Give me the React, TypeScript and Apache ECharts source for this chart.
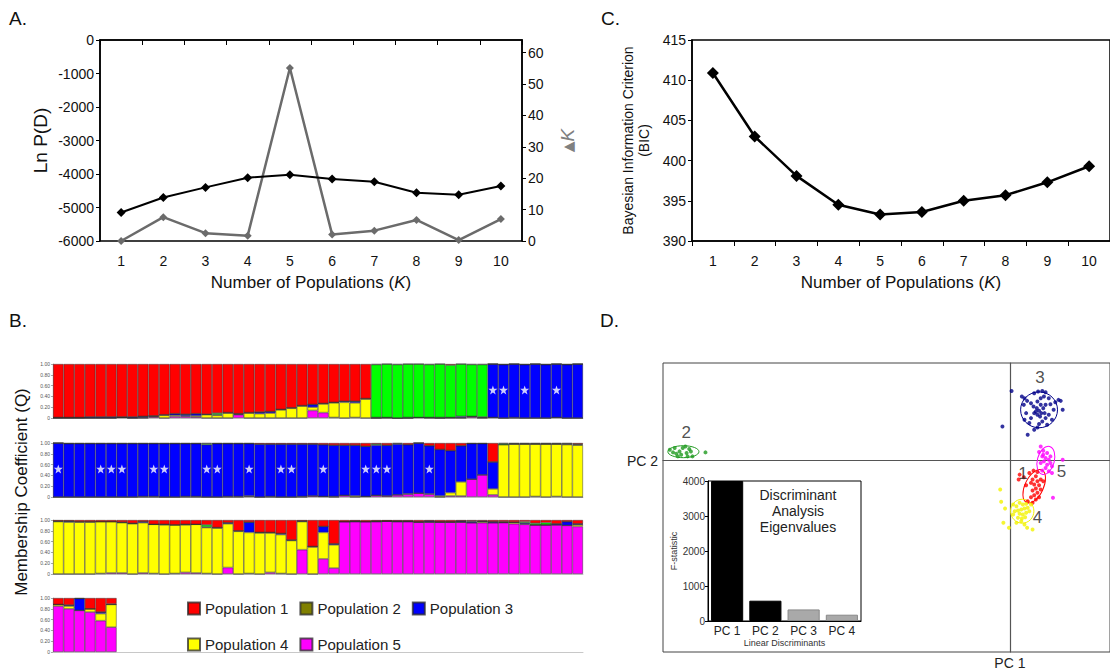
import React, { useEffect, useRef } from 'react';
import * as echarts from 'echarts';

const FONT = '"Liberation Sans", Arial, Helvetica, sans-serif';

// Panel A / C
const K_LABELS = ['1', '2', '3', '4', '5', '6', '7', '8', '9', '10'];
const LN_PD = [-5150, -4700, -4400, -4110, -4020, -4150, -4230, -4560, -4620, -4360];
const DELTA_K = [0, 7.6, 2.5, 1.7, 55.1, 2.1, 3.3, 6.7, 0.3, 7.0];
const BIC = [410.9, 403.0, 398.1, 394.5, 393.3, 393.6, 395.0, 395.7, 397.3, 399.3];

// Panel B: membership coefficients [P1, P2, P3, P4, P5]
const POP_NAMES = ['Population 1', 'Population 2', 'Population 3', 'Population 4', 'Population 5'];
const POP_COLORS = ['#ff0000', '#00ff00', '#0000ff', '#ffff00', '#ff00ff'];
const LEGEND_COLORS = ['#ff0000', '#808000', '#0000ff', '#ffff00', '#ff00ff'];
const Q_TICKS = [0, 0.2, 0.4, 0.6, 0.8, 1.0];

const Q_ROW1 = [
  [0.99, 0, 0.01, 0, 0], [0.99, 0, 0.01, 0, 0], [0.99, 0, 0.01, 0, 0], [0.98, 0, 0.02, 0, 0],
  [0.98, 0, 0.02, 0, 0], [0.98, 0, 0.02, 0, 0], [0.98, 0, 0.01, 0, 0.01], [0.98, 0, 0.02, 0, 0],
  [0.97, 0, 0.02, 0.01, 0], [0.96, 0, 0.01, 0.01, 0.02], [0.94, 0, 0.01, 0.05, 0], [0.92, 0, 0.03, 0.02, 0.03],
  [0.93, 0, 0.03, 0.01, 0.03], [0.92, 0, 0.04, 0.02, 0.02], [0.93, 0, 0.01, 0.06, 0], [0.91, 0.03, 0.01, 0.05, 0],
  [0.90, 0, 0.01, 0.09, 0], [0.92, 0, 0.01, 0.01, 0.06], [0.90, 0, 0.01, 0.09, 0], [0.89, 0, 0.03, 0.08, 0],
  [0.88, 0, 0.03, 0.09, 0], [0.84, 0, 0.01, 0.15, 0], [0.81, 0, 0.01, 0.18, 0], [0.77, 0, 0.01, 0.22, 0],
  [0.75, 0, 0.05, 0.06, 0.14], [0.73, 0, 0.01, 0.16, 0.10], [0.71, 0, 0.01, 0.27, 0.01], [0.69, 0, 0.02, 0.29, 0],
  [0.69, 0, 0.03, 0.27, 0.01], [0.64, 0, 0.01, 0.35, 0],
  [0.01, 0.98, 0.01, 0, 0], [0, 0.99, 0, 0.01, 0], [0.01, 0.99, 0, 0, 0], [0, 0.99, 0.01, 0, 0],
  [0, 0.99, 0, 0, 0.01], [0.01, 0.98, 0, 0.01, 0], [0, 0.99, 0.01, 0, 0], [0.02, 0.97, 0, 0.01, 0],
  [0, 0.97, 0.02, 0.01, 0], [0.01, 0.96, 0, 0.01, 0.02], [0.01, 0.97, 0.01, 0.01, 0],
  [0, 0, 0.99, 0, 0.01], [0.01, 0, 0.99, 0, 0], [0, 0, 0.99, 0.01, 0], [0.01, 0, 0.99, 0, 0],
  [0, 0, 1.0, 0, 0], [0.01, 0, 0.99, 0, 0], [0, 0, 0.99, 0, 0.01], [0.01, 0, 0.99, 0, 0], [0, 0, 1.0, 0, 0],
];

const Q_ROW2 = [
  [0, 0, 1.0, 0, 0], [0.01, 0, 0.99, 0, 0], [0.01, 0, 0.99, 0, 0], [0.01, 0, 0.99, 0, 0],
  [0.01, 0, 0.99, 0, 0], [0.01, 0, 0.99, 0, 0], [0.01, 0, 0.99, 0, 0], [0.01, 0, 0.99, 0, 0],
  [0.01, 0, 0.98, 0.01, 0], [0.01, 0, 0.98, 0.01, 0], [0.01, 0, 0.99, 0, 0], [0.01, 0, 0.99, 0, 0],
  [0.01, 0, 0.98, 0.01, 0], [0.01, 0, 0.98, 0.01, 0], [0.01, 0.02, 0.97, 0, 0], [0.01, 0, 0.99, 0, 0],
  [0.01, 0, 0.98, 0.01, 0], [0.01, 0, 0.98, 0.01, 0], [0.01, 0, 0.97, 0.01, 0.01], [0.02, 0, 0.98, 0, 0],
  [0.02, 0, 0.97, 0.01, 0], [0.02, 0, 0.98, 0, 0], [0.02, 0, 0.98, 0, 0], [0.02, 0, 0.97, 0.01, 0],
  [0.02, 0, 0.96, 0, 0.02], [0.03, 0, 0.96, 0, 0.01], [0.04, 0, 0.95, 0.01, 0], [0.04, 0, 0.93, 0, 0.03],
  [0.04, 0, 0.94, 0.02, 0], [0.06, 0, 0.93, 0, 0.01], [0.02, 0.02, 0.93, 0, 0.03], [0.04, 0, 0.94, 0, 0.02],
  [0.01, 0.01, 0.94, 0, 0.04], [0.03, 0, 0.91, 0.01, 0.05], [0, 0, 0.93, 0, 0.07], [0.05, 0, 0.89, 0.01, 0.05],
  [0.12, 0, 0.86, 0.02, 0], [0.14, 0, 0.78, 0.06, 0.02], [0.05, 0, 0.67, 0.26, 0.02], [0.01, 0, 0.66, 0, 0.33],
  [0.01, 0, 0.58, 0, 0.41], [0.35, 0, 0.50, 0.11, 0.04],
  [0.01, 0.02, 0, 0.97, 0], [0.01, 0.01, 0, 0.98, 0], [0.01, 0.01, 0, 0.98, 0], [0.01, 0.01, 0, 0.97, 0.01],
  [0.01, 0.01, 0, 0.98, 0], [0.01, 0.01, 0, 0.97, 0.01], [0.01, 0.01, 0.01, 0.97, 0], [0.02, 0.01, 0.01, 0.96, 0],
];

const Q_ROW3 = [
  [0.02, 0, 0.01, 0.97, 0], [0.02, 0, 0.02, 0.96, 0], [0.03, 0, 0.01, 0.96, 0], [0.03, 0, 0.01, 0.96, 0],
  [0.03, 0, 0, 0.96, 0.01], [0.03, 0, 0, 0.95, 0.02], [0.04, 0, 0.01, 0.93, 0.02], [0.06, 0, 0.01, 0.93, 0],
  [0.03, 0, 0.02, 0.93, 0.02], [0.08, 0, 0, 0.91, 0.01], [0.08, 0, 0.01, 0.91, 0], [0.09, 0, 0, 0.90, 0.01],
  [0.08, 0, 0.01, 0.88, 0.03], [0.08, 0, 0, 0.90, 0.02], [0.09, 0.04, 0.01, 0.85, 0.01], [0.14, 0, 0.01, 0.85, 0],
  [0.05, 0, 0.02, 0.81, 0.12], [0.20, 0, 0.01, 0.79, 0], [0.04, 0, 0.19, 0.76, 0.01], [0.23, 0, 0.01, 0.76, 0],
  [0.23, 0, 0.01, 0.73, 0.03], [0.25, 0, 0.02, 0.72, 0.01], [0.37, 0, 0.01, 0.62, 0], [0.02, 0, 0.01, 0.52, 0.45],
  [0.49, 0, 0.01, 0.50, 0], [0.12, 0, 0.11, 0.49, 0.28], [0.44, 0, 0.02, 0.43, 0.11],
  [0.03, 0, 0, 0, 0.97], [0.02, 0, 0.01, 0, 0.97], [0.03, 0, 0, 0, 0.97], [0.02, 0, 0.01, 0, 0.97],
  [0.02, 0, 0, 0, 0.98], [0.02, 0, 0.01, 0, 0.97], [0.02, 0, 0.01, 0, 0.97], [0.03, 0, 0.01, 0, 0.96],
  [0.02, 0, 0.02, 0, 0.96], [0.03, 0, 0.01, 0, 0.96], [0.03, 0, 0.01, 0, 0.96], [0.02, 0, 0.02, 0, 0.96],
  [0.02, 0.01, 0.02, 0, 0.95], [0.02, 0.01, 0, 0.02, 0.95], [0.03, 0, 0.02, 0, 0.95], [0.03, 0.01, 0, 0.01, 0.95],
  [0.04, 0, 0, 0.03, 0.93], [0.03, 0.02, 0.02, 0.01, 0.92], [0.06, 0.03, 0, 0, 0.91], [0.05, 0.04, 0, 0, 0.91],
  [0.07, 0, 0.02, 0, 0.91], [0.03, 0, 0.07, 0, 0.90], [0.07, 0, 0.02, 0.03, 0.88],
];

const Q_ROW4 = [
  [0.12, 0, 0, 0.03, 0.85], [0.13, 0, 0.02, 0.05, 0.80], [0.01, 0, 0.22, 0, 0.77],
  [0.20, 0, 0, 0.06, 0.74], [0.26, 0, 0.03, 0.13, 0.58], [0.11, 0.01, 0, 0.42, 0.46],
];

const Q_ROWS = [Q_ROW1, Q_ROW2, Q_ROW3, Q_ROW4];
const SAMPLE_LABELS = Array.from({ length: 50 }, (_, i) => String(i + 1));
const STARS_ROW1 = [41, 42, 44, 47];
const STARS_ROW2 = [0, 4, 5, 6, 9, 10, 14, 15, 18, 21, 22, 25, 29, 30, 31, 35];
const STAR_Q = 0.52;

// Panel D: DAPC scatter (LD scores)
const CLUSTER_COLORS = ['#ff0000', '#1f9a1f', '#000088', '#f2f200', '#ff00ff'];
const CLUSTER1 = [
  [1.0, -1.4], [0.9, -1.9], [1.43, -1.67], [2.0, -1.23], [2.43, -1.0], [2.83, -1.13], [2.67, -1.57],
  [2.33, -1.9], [2.83, -2.07], [3.17, -1.9], [2.17, -2.23], [2.5, -2.4], [3.0, -2.47], [2.67, -2.8],
  [2.33, -3.0], [3.17, -2.9], [2.83, -3.23], [2.5, -3.47], [2.17, -3.67], [3.0, -3.67], [2.67, -3.9],
  [1.83, -4.07], [2.33, -4.23], [3.43, -2.07], [1.67, -2.47],
];
const CLUSTER2 = [
  [-35.0, 1.1], [-34.67, 0.83], [-34.33, 0.7], [-34.0, 0.93], [-33.67, 1.27], [-33.4, 1.43], [-33.27, 0.77],
  [-33.0, 1.17], [-32.83, 0.93], [-32.67, 0.43], [-34.17, 0.43], [-33.83, 0.6], [-33.17, 0.43], [-31.33, 0.83],
  [-34.5, 1.27],
];
const CLUSTER3 = [
  [0.17, 7.0], [-0.77, 3.43], [1.23, 6.43], [1.5, 6.27], [1.77, 6.0], [1.43, 5.6], [2.17, 5.77], [2.5, 6.77],
  [2.9, 6.93], [3.33, 7.0], [3.67, 6.87], [3.5, 6.43], [4.0, 6.27], [3.17, 6.27], [2.83, 5.93], [2.43, 5.43],
  [2.77, 5.27], [3.0, 5.0], [3.23, 4.77], [2.83, 4.6], [2.5, 4.77], [3.43, 5.27], [3.67, 5.6], [4.17, 5.67],
  [4.67, 5.87], [5.0, 6.1], [5.23, 6.0], [5.43, 5.1], [4.5, 5.1], [4.0, 4.6], [3.67, 4.27], [3.33, 3.93],
  [3.0, 3.67], [2.5, 3.1], [1.83, 2.6], [2.83, 3.33], [3.83, 3.6], [4.33, 4.1], [2.17, 4.27], [1.67, 4.77],
  [1.5, 4.1], [2.0, 3.77], [3.17, 5.6], [2.67, 4.93], [3.1, 4.43], [3.57, 4.77],
];
const CLUSTER4 = [
  [-1.0, -2.9], [-0.9, -4.13], [-0.5, -4.8], [-0.67, -6.23], [-0.1, -6.73], [0.33, -4.4], [0.67, -4.57],
  [1.0, -4.23], [1.33, -4.4], [1.67, -4.33], [0.5, -5.07], [0.83, -5.0], [1.17, -4.9], [1.5, -4.8],
  [1.83, -4.73], [1.0, -5.33], [1.33, -5.4], [1.67, -5.23], [0.83, -5.73], [1.23, -5.8], [1.57, -5.67],
  [2.0, -5.07], [2.17, -4.4], [0.67, -6.23], [1.5, -6.4], [1.77, -6.73], [2.33, -6.9], [0.33, -5.4],
  [1.17, -6.07],
];
const CLUSTER5 = [
  [3.17, 1.43], [3.0, 0.87], [3.43, 1.0], [3.83, 0.77], [3.33, 0.43], [3.67, 0.27], [4.0, 0.1], [3.5, -0.07],
  [3.17, -0.23], [3.83, -0.4], [4.17, -0.23], [4.33, -0.57], [3.67, -0.73], [4.0, -1.07], [3.33, -1.0],
  [4.33, -1.23], [5.43, 0.1], [4.43, -3.73], [3.43, 0.6], [4.17, 0.43],
];
const CLUSTERS = [CLUSTER1, CLUSTER2, CLUSTER3, CLUSTER4, CLUSTER5];
// [centre x, centre y, radius x, radius y, rotation in degrees]
const ELLIPSES = [
  [2.5, -2.57, 0.95, 1.8, -25],
  [-33.6, 0.9, 1.6, 0.6, 0],
  [3.0, 5.1, 1.9, 1.8, 0],
  [1.27, -5.07, 1.2, 1.2, 0],
  [3.7, 0.03, 0.87, 1.45, -15],
];
const CLUSTER_TAGS = [
  { name: '1', value: [1.35, -1.3] },
  { name: '2', value: [-33.3, 2.8] },
  { name: '3', value: [3.1, 8.3] },
  { name: '4', value: [2.85, -5.75] },
  { name: '5', value: [5.3, -1.1] },
];

// Inset bar chart
const EIGEN_LABELS = ['PC 1', 'PC 2', 'PC 3', 'PC 4'];
const EIGEN_VALUES = [4000, 580, 330, 180];
const EIGEN_COLORS = ['#000000', '#000000', '#a9a9a9', '#a9a9a9'];

const STAR_PATH =
  'path://M0,-10L2.35,-3.24L9.51,-3.09L3.8,1.24L5.88,8.09L0,4L-5.88,8.09L-3.8,1.24L-9.51,-3.09L-2.35,-3.24Z';

const plain = (v: number) => String(v);

function buildOption() {
  const lineAxisLabel = { fontSize: 14, color: '#111', fontFamily: FONT, formatter: plain };
  const nameK = {
    name: 'Number of Populations ({i|K})',
    nameLocation: 'middle',
    nameGap: 33,
    nameTextStyle: {
      fontSize: 17,
      color: '#111',
      fontFamily: FONT,
      rich: { i: { fontSize: 17, fontStyle: 'italic', color: '#111', fontFamily: FONT } },
    },
  };
  const blackLine = { show: true, lineStyle: { color: '#000', width: 1.5 } };

  const xAxis: any[] = [
    {
      type: 'category', gridIndex: 0, data: K_LABELS, ...nameK,
      axisLine: blackLine, axisTick: { show: true, length: 5, lineStyle: { color: '#000' } },
      axisLabel: { fontSize: 14, color: '#111', fontFamily: FONT, margin: 13 },
    },
    {
      type: 'category', gridIndex: 1, data: K_LABELS, ...nameK,
      axisLine: blackLine, axisTick: { show: true, length: 5, lineStyle: { color: '#000' } },
      axisLabel: { fontSize: 14, color: '#111', fontFamily: FONT, margin: 13 },
    },
  ];
  const yAxis: any[] = [
    {
      type: 'value', gridIndex: 0, min: -6000, max: 0, interval: 1000,
      name: 'Ln P(D)', nameLocation: 'middle', nameGap: 50,
      nameTextStyle: { fontSize: 19, color: '#111', fontFamily: FONT },
      axisLine: blackLine, axisTick: { show: true, length: 4, lineStyle: { color: '#000' } },
      axisLabel: { ...lineAxisLabel, margin: 6 }, splitLine: { show: false },
    },
    {
      type: 'value', gridIndex: 0, position: 'right', min: 0, max: 64, interval: 10,
      name: '{t|▲}{k|K}', nameLocation: 'middle', nameGap: 36, nameRotate: 90,
      nameTextStyle: {
        fontSize: 18, color: '#808080', fontFamily: FONT,
        rich: {
          t: { fontSize: 14, color: '#808080', fontFamily: 'DejaVu Sans' },
          k: { fontSize: 19, fontStyle: 'italic', color: '#808080', fontFamily: FONT },
        },
      },
      axisLine: blackLine, axisTick: { show: true, length: 4, lineStyle: { color: '#000' } },
      axisLabel: { ...lineAxisLabel, margin: 6, showMaxLabel: false }, splitLine: { show: false },
    },
    {
      type: 'value', gridIndex: 1, min: 390, max: 415, interval: 5,
      name: 'Bayesian Information Criterion\n(BIC)', nameLocation: 'middle', nameGap: 40,
      nameTextStyle: { fontSize: 14, lineHeight: 16, color: '#111', fontFamily: FONT, align: 'center' },
      axisLine: blackLine, axisTick: { show: true, length: 4, lineStyle: { color: '#000' } },
      axisLabel: { ...lineAxisLabel, margin: 6 }, splitLine: { show: false },
    },
  ];

  const grid: any[] = [
    { left: 100, top: 40, width: 422, height: 201, show: true, borderColor: '#000', borderWidth: 1.5 },
    { left: 692, top: 40, width: 426, height: 201, show: true, borderColor: '#000', borderWidth: 1.5 },
  ];

  const rowTops = [364, 443, 520, 598];
  rowTops.forEach((top, r) => {
    grid.push({ left: 53, top, width: 530, height: 54 });
    xAxis.push({
      type: 'category', gridIndex: 2 + r, data: SAMPLE_LABELS,
      axisLine: { show: true, lineStyle: { color: '#c8c8c8', width: 1 } },
      axisTick: { show: false }, axisLabel: { show: false },
    });
    yAxis.push({
      type: 'value', gridIndex: 2 + r, min: Q_TICKS[0], max: Q_TICKS[Q_TICKS.length - 1], interval: 0.2,
      axisLine: { show: true, lineStyle: { color: '#aaa', width: 0.8 } },
      axisTick: { show: true, length: 2, lineStyle: { color: '#aaa' } },
      axisLabel: {
        fontSize: 5, color: '#555', margin: 3, fontFamily: FONT,
        formatter: (v: number) => (v === 0 ? '0' : v.toFixed(2)),
      },
      splitLine: { show: false },
    });
  });

  // D scatter grid
  grid.push({ left: 663, top: 363, width: 460, height: 290, show: true, borderColor: '#444', borderWidth: 1 });
  xAxis.push({
    type: 'value', gridIndex: 6, min: -35.7, max: 10.3,
    name: 'PC 2', nameLocation: 'start', nameGap: 5,
    nameTextStyle: { fontSize: 14, color: '#222', fontFamily: FONT },
    axisLine: { show: true, onZero: true, lineStyle: { color: '#555', width: 1.2 } },
    axisTick: { show: false }, axisLabel: { show: false }, splitLine: { show: false },
  });
  yAxis.push({
    type: 'value', gridIndex: 6, min: -19.2, max: 9.8,
    name: 'PC 1', nameLocation: 'start', nameGap: 4,
    nameTextStyle: { fontSize: 14, color: '#222', fontFamily: FONT },
    axisLine: { show: true, onZero: true, lineStyle: { color: '#555', width: 1.2 } },
    axisTick: { show: false }, axisLabel: { show: false }, splitLine: { show: false },
  });

  // Inset grid
  grid.push({
    left: 708, top: 481, width: 153, height: 140, show: true,
    borderColor: '#000', borderWidth: 1, backgroundColor: '#fff',
  });
  xAxis.push({
    type: 'category', gridIndex: 7, data: EIGEN_LABELS,
    name: 'Linear Discriminants', nameLocation: 'middle', nameGap: 17,
    nameTextStyle: { fontSize: 9, color: '#333', fontFamily: FONT },
    axisLine: { show: true, lineStyle: { color: '#000' } }, axisTick: { show: false },
    axisLabel: { fontSize: 12, color: '#222', margin: 4, fontFamily: FONT },
  });
  yAxis.push({
    type: 'value', gridIndex: 7, min: 0, max: 4000, interval: 1000,
    name: 'F-statistic', nameLocation: 'middle', nameGap: 29,
    nameTextStyle: { fontSize: 9, color: '#333', fontFamily: FONT },
    axisLine: { show: true, lineStyle: { color: '#000' } },
    axisTick: { show: true, length: 3, lineStyle: { color: '#000' } },
    axisLabel: { fontSize: 10, color: '#333', margin: 3, fontFamily: FONT, formatter: plain },
    splitLine: { show: false },
  });

  const series: any[] = [
    {
      type: 'line', xAxisIndex: 0, yAxisIndex: 0, data: LN_PD,
      symbol: 'diamond', symbolSize: 9, lineStyle: { color: '#000', width: 2 },
      itemStyle: { color: '#000' }, z: 4,
    },
    {
      type: 'line', xAxisIndex: 0, yAxisIndex: 1, data: DELTA_K,
      symbol: 'diamond', symbolSize: 8, lineStyle: { color: '#6b6b6b', width: 2.5 },
      itemStyle: { color: '#6b6b6b' }, z: 3,
    },
    {
      type: 'line', xAxisIndex: 1, yAxisIndex: 2, data: BIC,
      symbol: 'diamond', symbolSize: 12, lineStyle: { color: '#000', width: 2.5 },
      itemStyle: { color: '#000' },
    },
  ];

  Q_ROWS.forEach((rows, r) => {
    [4, 3, 2, 1, 0].forEach((p) => {
      series.push({
        type: 'bar', name: POP_NAMES[p], xAxisIndex: 2 + r, yAxisIndex: 2 + r + 1,
        stack: 'row' + r, barCategoryGap: 0, barGap: 0,
        data: rows.map((t) => t[p]),
        itemStyle: { color: POP_COLORS[p], borderColor: 'rgba(40,40,40,0.75)', borderWidth: 0.6 },
        emphasis: { disabled: true },
      });
    });
  });

  [STARS_ROW1, STARS_ROW2].forEach((stars, r) => {
    series.push({
      type: 'scatter', xAxisIndex: 2 + r, yAxisIndex: 3 + r,
      data: stars.map((i) => [i, STAR_Q]),
      symbol: STAR_PATH, symbolSize: 9, itemStyle: { color: '#fff' }, z: 10,
    });
  });

  CLUSTERS.forEach((pts, c) => {
    series.push({
      type: 'scatter', xAxisIndex: 6, yAxisIndex: 7, data: pts,
      symbol: 'circle', symbolSize: 4, itemStyle: { color: CLUSTER_COLORS[c] }, z: 3,
    });
  });

  series.push({
    type: 'custom', xAxisIndex: 6, yAxisIndex: 7, data: ELLIPSES,
    encode: { x: 0, y: 1 }, z: 2,
    renderItem: (params: any, api: any) => {
      const c = api.coord([api.value(0), api.value(1)]);
      const s = api.size([api.value(2), api.value(3)]);
      return {
        type: 'ellipse', x: c[0], y: c[1], rotation: (api.value(4) * Math.PI) / 180,
        shape: { cx: 0, cy: 0, rx: s[0], ry: s[1] },
        style: { fill: 'none', stroke: CLUSTER_COLORS[params.dataIndex], lineWidth: 1 },
      };
    },
  });

  series.push({
    type: 'scatter', xAxisIndex: 6, yAxisIndex: 7, data: CLUSTER_TAGS,
    symbolSize: 1, itemStyle: { color: 'rgba(0,0,0,0)' }, z: 5,
    label: {
      show: true, position: 'inside', formatter: '{b}', fontSize: 17, color: '#222', fontFamily: FONT,
    },
  });

  series.push({
    type: 'bar', xAxisIndex: 7, yAxisIndex: 8, barCategoryGap: '16%',
    data: EIGEN_VALUES.map((v, i) => ({
      value: v,
      itemStyle: { color: EIGEN_COLORS[i], borderColor: i > 1 ? '#888' : '#000', borderWidth: 1 },
    })),
    z: 5,
  });

  const legendBase = {
    icon: 'rect', itemWidth: 12, itemHeight: 12, itemGap: 11, left: 182,
    textStyle: { fontSize: 15, color: '#222', fontFamily: FONT },
    selectedMode: false,
  };

  return {
    animation: false,
    backgroundColor: '#ffffff',
    textStyle: { fontFamily: FONT },
    grid, xAxis, yAxis, series,
    legend: [
      {
        ...legendBase, top: 596,
        data: [0, 1, 2].map((p) => ({ name: POP_NAMES[p], itemStyle: { color: LEGEND_COLORS[p] } })),
      },
      {
        ...legendBase, top: 632,
        data: [3, 4].map((p) => ({ name: POP_NAMES[p], itemStyle: { color: LEGEND_COLORS[p] } })),
      },
    ],
    graphic: [
      { type: 'text', left: 9, top: 9, style: { text: 'A.', fontSize: 19, fill: '#111', fontFamily: FONT } },
      { type: 'text', left: 601, top: 9, style: { text: 'C.', fontSize: 19, fill: '#111', fontFamily: FONT } },
      { type: 'text', left: 9, top: 311, style: { text: 'B.', fontSize: 19, fill: '#111', fontFamily: FONT } },
      { type: 'text', left: 600, top: 311, style: { text: 'D.', fontSize: 19, fill: '#111', fontFamily: FONT } },
      {
        type: 'text', x: 21, y: 492, rotation: Math.PI / 2,
        style: {
          text: 'Membership Coefficient (Q)', fontSize: 17, fill: '#111', fontFamily: FONT,
          align: 'center', verticalAlign: 'middle',
        },
      },
      {
        type: 'text', x: 798, y: 511, z: 20,
        style: {
          text: 'Discriminant\nAnalysis\nEigenvalues', fontSize: 14, lineHeight: 16, fill: '#222',
          fontFamily: FONT, align: 'center', verticalAlign: 'middle',
        },
      },
    ],
  };
}

export default function App() {
  const ref = useRef<HTMLDivElement>(null);
  useEffect(() => {
    if (!ref.current) return;
    const chart = echarts.init(ref.current, undefined, { renderer: 'svg' });
    chart.setOption(buildOption() as any);
    return () => chart.dispose();
  }, []);
  return (
    <div
      ref={ref}
      style={{ position: 'fixed', left: 0, top: 0, width: 1110, height: 670, background: '#fff' }}
    />
  );
}
